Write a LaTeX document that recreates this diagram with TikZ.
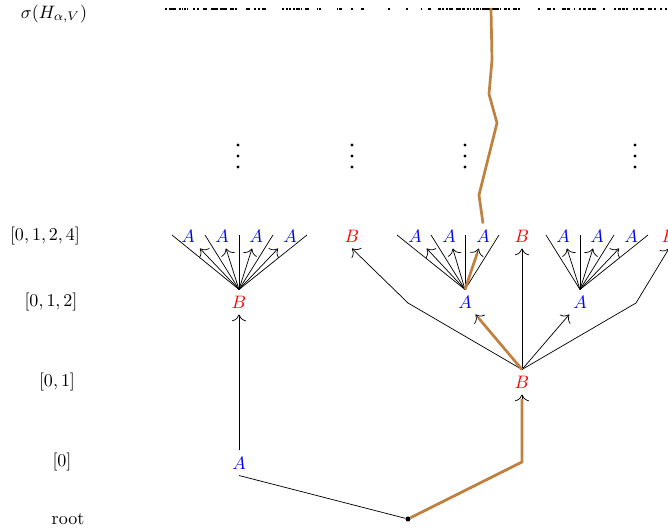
\documentclass[tikz,border=0pt]{standalone}
\usepackage{amssymb}
\usepackage{amsmath}
\usepackage{xcolor}
\usepackage{tikz}
\usetikzlibrary{arrows.meta}
\tikzstyle{lvl} = [text centered, inner sep=0pt]
\tikzstyle{anode} = [text=blue]
\tikzstyle{bnode} = [text=red]
\tikzstyle{dot} = [circle, fill=black, inner sep=0pt, minimum size=2.8pt]
\tikzstyle{arrow} = [-{To[scale=1.5]}]
\tikzstyle{hit} = [brown, line width=1.5pt, shorten >=2.5pt]

\begin{document}
\begin{tikzpicture}[x=0.5556pt, y=-0.5556pt]
   \useasboundingbox (0,0) rectangle (668,531);
   % level labels
   \node (l5) [lvl] at (54,14) {$\sigma(H_{\alpha,V})$};
   \node (l4) [lvl] at (45,236) {$[0,1,2,4]$};
   \node (l3) [lvl] at (51,302) {$[0,1,2]$};
   \node (l2) [lvl] at (57,382) {$[0,1]$};
   \node (l1) [lvl] at (62,462) {$[0]$};
   \node (l0) [lvl] at (68,519) {root};
   % spectrum
   \pgfmathsetseed{17}
   \foreach \i in {1,...,130} {
      \pgfmathsetmacro{\sx}{161+505*rnd}
      \fill (\sx,8) rectangle ++(1.8,1.8);
   }
   \foreach \i in {1,...,25} {
      \pgfmathsetmacro{\sx}{438+75*rnd}
      \fill (\sx,8) rectangle ++(1.8,1.8);
   }
   % tree
   \node (root) [dot] at (408,519) {};
   \node (a0) [anode] at (239,463) {$A$};
   \node (b0) [bnode] at (239,302) {$B$};
   \node (b1) [bnode] at (522,382) {$B$};
   \node (a1) [anode] at (465,302) {$A$};
   \node (a2) [anode] at (580,302) {$A$};
   \node (c1) [bnode] at (352,236) {$B$};
   \node (c2) [bnode] at (522,236) {$B$};
   \node (c3) [bnode] at (669,236) {$B$};
   \coordinate (k) at (522,462);
   \coordinate (e1) at (408,303);
   \coordinate (e2) at (636,303);
   \draw (root) -- (a0.south);
   \draw [arrow] (a0) -- (b0);
   \draw [arrow] (k) -- (b1.south);
   \draw [arrow] (b1.north) -- (a1);
   \draw [arrow] (b1.north) -- (e1) -- (c1.south);
   \draw [arrow] (b1.north) -- (c2);
   \draw [arrow] (b1.north) -- (a2);
   \draw [arrow] (b1.north) -- (e2) -- (c3.south);
   % fan over b0
   \foreach \x [count=\i] in {172,205,239,273,307} {
      \coordinate (p\i) at (\x,235);
      \draw (b0.north) -- (p\i);
   }
   \foreach \x [count=\i] in {188,222,256,290} {
      \node (d\i) [anode] at (\x,236) {$A$};
      \draw [arrow] (b0.north) -- (d\i);
   }
   % fan over a1
   \foreach \x [count=\i] in {397,431,465,499} {
      \coordinate (q\i) at (\x,235);
      \draw (a1.north) -- (q\i);
   }
   \foreach \x [count=\i] in {415,449,483} {
      \node (m\i) [anode] at (\x,236) {$A$};
      \draw [arrow] (a1.north) -- (m\i);
   }
   % fan over a2
   \foreach \x [count=\i] in {546,580,614,648} {
      \coordinate (s\i) at (\x,235);
      \draw (a2.north) -- (s\i);
   }
   \foreach \x [count=\i] in {563,597,631} {
      \node (r\i) [anode] at (\x,236) {$A$};
      \draw [arrow] (a2.north) -- (r\i);
   }
   % dots
   \foreach \x in {238,352,465,635} {
      \foreach \y in {145,156,167} \fill (\x,\y) circle (1.6);
   }
   % path
   \coordinate (z1) at (479,195);
   \coordinate (z2) at (497,123);
   \coordinate (z3) at (489,94);
   \coordinate (z4) at (492,60);
   \coordinate (z5) at (491,8);
   \draw [hit] (root) -- (k) -- (b1.south);
   \draw [hit] (b1.north) -- (a1);
   \draw [hit] (a1.north) -- (m3);
   \draw [hit, shorten >=0pt] (m3.north) -- (z1) -- (z2) -- (z3) -- (z4) -- (z5);
\end{tikzpicture}
\end{document}
